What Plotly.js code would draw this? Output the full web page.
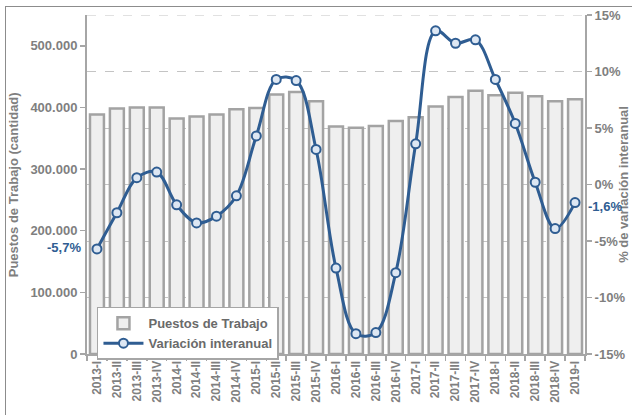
<!DOCTYPE html>
<html>
<head>
<meta charset="utf-8">
<script src="https://cdn.plot.ly/plotly-3.0.1.min.js"></script>
<style>
  html, body { margin: 0; padding: 0; background: #fff; }
  #wrap { position: relative; width: 632px; height: 415px; overflow: hidden; }
  #chart { position: absolute; left: 0; top: 0; width: 632px; height: 415px; }
  #frame { position: absolute; left: 5px; top: 6px; width: 640px; height: 420px;
           border: 1.5px solid #8c8c8c; pointer-events: none; }
</style>
</head>
<body>
<div id="wrap">
  <div id="chart"></div>
  <div id="frame"></div>
</div>
<script>
const categories = ['2013-I','2013-II','2013-III','2013-IV','2014-I','2014-II','2014-III','2014-IV',
  '2015-I','2015-II','2015-III','2015-IV','2016-I','2016-II','2016-III','2016-IV',
  '2017-I','2017-II','2017-III','2017-IV','2018-I','2018-II','2018-III','2018-IV','2019-I'];

const puestos = [388500, 398500, 400000, 400000, 382000, 385500, 388500, 397000,
  399000, 421000, 425000, 410000, 369000, 367000, 370000, 378000,
  384000, 401500, 417000, 427000, 420000, 424000, 418000, 410000, 413500];

const variacion = [-5.7, -2.5, 0.6, 1.1, -1.8, -3.4, -2.8, -1.0,
  4.3, 9.3, 9.2, 3.1, -7.4, -13.2, -13.1, -7.8,
  3.6, 13.6, 12.5, 12.8, 9.3, 5.4, 0.2, -3.9, -1.6];

const y2TickVals = [-15, -10, -5, 0, 5, 10, 15];
const y2TickText = ['-15%', '-10%', '-5%', '0%', '5%', '10%', '15%'];
const yTickVals = [0, 100000, 200000, 300000, 400000, 500000];

const labelFirst = '-5,7%';
const labelLast = '-1,6%';

const gray = '#7f7f7f';
const axisGray = '#a6a6a6';
const blue = '#2f5d92';
const font = 'Liberation Sans, Arial, sans-serif';

const traces = [
  {
    type: 'bar', name: 'Puestos de Trabajo', x: categories, y: puestos, yaxis: 'y',
    marker: { color: '#efefef', line: { color: '#a3a3a3', width: 2.5 } },
    hoverinfo: 'x+y'
  },
  {
    type: 'scatter', mode: 'lines+markers', name: 'Variación interanual',
    x: categories, y: variacion, yaxis: 'y2',
    line: { color: blue, width: 3, shape: 'spline', smoothing: 1 },
    marker: { symbol: 'circle', size: 9, color: '#dde7f3', line: { color: blue, width: 2 } }
  }
];

const layout = {
  width: 632, height: 415,
  margin: { l: 87, r: 47, t: 15, b: 61 },
  paper_bgcolor: 'rgba(0,0,0,0)', plot_bgcolor: '#fff',
  separators: ',.',
  bargap: 0.3,
  showlegend: true,
  font: { family: font, color: gray },
  legend: {
    x: 0.02, y: 0.139, xanchor: 'left', yanchor: 'top',
    bgcolor: '#fff', bordercolor: axisGray, borderwidth: 1.5,
    font: { family: font, size: 13, color: '#6a6a6a', weight: 'bold' },
    tracegroupgap: 0, itemwidth: 40
  },
  xaxis: {
    type: 'category', tickangle: -90, tickson: 'boundaries',
    ticks: 'outside', ticklen: 5, tickcolor: axisGray, tickwidth: 1.5,
    showline: true, linecolor: axisGray, linewidth: 2,
    showgrid: false, zeroline: false,
    tickfont: { family: font, size: 12, color: gray, weight: 'bold' },
    range: [-0.5, 24.5]
  },
  yaxis: {
    range: [0, 550000], tickvals: yTickVals, tickformat: ',d',
    ticks: 'outside', ticklen: 5, tickcolor: axisGray, tickwidth: 1.5,
    showline: true, linecolor: axisGray, linewidth: 2,
    showgrid: false, zeroline: false,
    tickfont: { family: font, size: 13, color: gray, weight: 'bold' }
  },
  yaxis2: {
    overlaying: 'y', side: 'right', range: [-15, 15],
    tickvals: y2TickVals, ticktext: y2TickText,
    ticks: 'outside', ticklen: 5, tickcolor: axisGray, tickwidth: 1.5,
    showline: true, linecolor: axisGray, linewidth: 2,
    showgrid: true, gridcolor: '#c4c4c4', griddash: 'dash', gridwidth: 1,
    zeroline: false,
    tickfont: { family: font, size: 13, color: gray, weight: 'bold' }
  },
  shapes: [
    { type: 'line', xref: 'paper', yref: 'y2', x0: 0, x1: 1,
      y0: y2TickVals[y2TickVals.length - 1], y1: y2TickVals[y2TickVals.length - 1],
      line: { color: '#c4c4c4', width: 1, dash: 'dash' }, layer: 'above' }
  ],
  annotations: [
    { xref: 'paper', yref: 'paper', x: -0.147, y: 0.5, text: 'Puestos de Trabajo (cantidad)',
      textangle: -90, showarrow: false, xanchor: 'center', yanchor: 'middle',
      font: { family: font, size: 13, color: gray, weight: 'bold' } },
    { xref: 'paper', yref: 'paper', x: 1.077, y: 0.5, text: '% de variación interanual',
      textangle: -90, showarrow: false, xanchor: 'center', yanchor: 'middle',
      font: { family: font, size: 13, color: gray, weight: 'bold' } },
    { xref: 'x', yref: 'y2', x: categories[0], y: variacion[0], text: labelFirst,
      showarrow: false, xshift: -33, yshift: 1,
      font: { family: font, size: 13, color: blue, weight: 'bold' } },
    { xref: 'x', yref: 'y2', x: categories[categories.length - 1], y: variacion[variacion.length - 1],
      text: labelLast, showarrow: false, xshift: 30, yshift: -4,
      font: { family: font, size: 13, color: blue, weight: 'bold' } }
  ]
};

Plotly.newPlot('chart', traces, layout, { displayModeBar: false, staticPlot: true });
</script>
</body>
</html>
